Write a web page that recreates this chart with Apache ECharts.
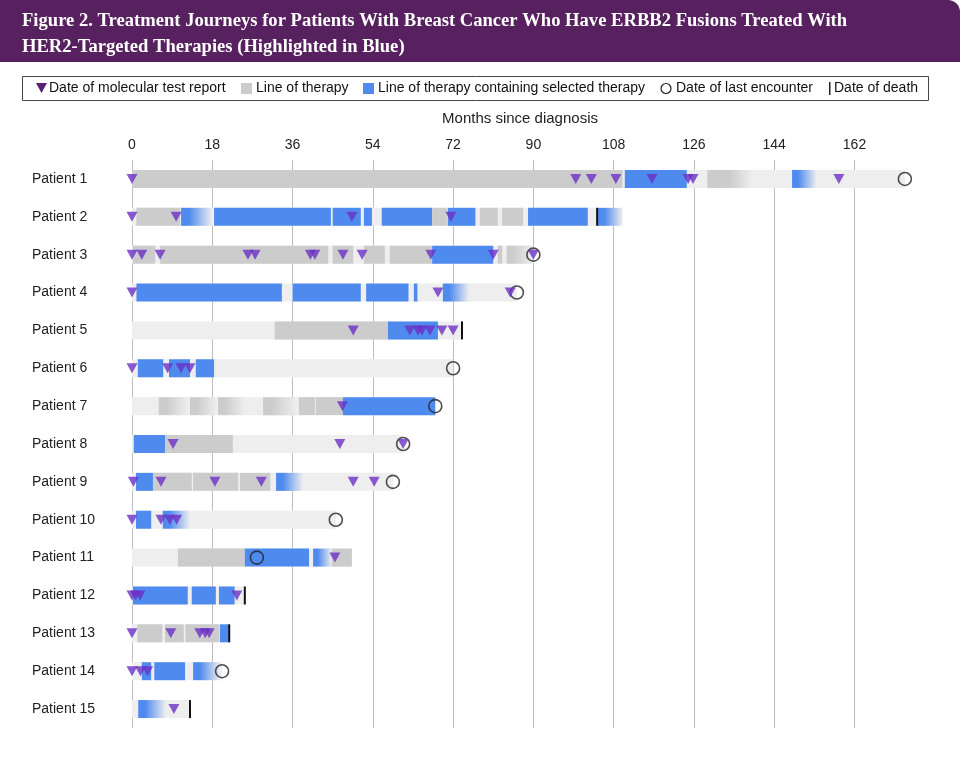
<!DOCTYPE html>
<html>
<head>
<meta charset="utf-8">
<script src="https://cdn.jsdelivr.net/npm/echarts@6/dist/echarts.min.js"></script>
<style>
  html, body { margin: 0; padding: 0; background: #fff; }
  #chart { width: 962px; height: 770px; }
</style>
</head>
<body>
<div id="chart"></div>
<script>
// 患者
var patients = ["Patient 1", "Patient 2", "Patient 3", "Patient 4", "Patient 5", "Patient 6", "Patient 7", "Patient 8",
  "Patient 9", "Patient 10", "Patient 11", "Patient 12", "Patient 13", "Patient 14", "Patient 15"];
var xTicks = [0, 18, 36, 54, 72, 90, 108, 126, 144, 162];

// 随访期 (浅灰底) [patient, start, end]
var followUp = [[0, 0, 173.3], [1, 0, 104.3], [2, 0, 90], [3, 0, 86.3], [4, 0, 74], [5, 0, 72], [6, 0, 68], [7, 0, 60.8],
  [8, 0, 58.5], [9, 0, 45.7], [10, 0, 49.3], [11, 0, 25.3], [12, 0, 21.8], [13, 0, 20.2], [14, 0, 13]];

// 治疗线 [patient, start, end, kind]  G=灰 B=蓝 BF=蓝渐隐 GF=灰渐隐
var lines = [
  [0, 0, 110, "G"], [0, 110.5, 124.4, "B"], [0, 129, 132.5, "G"], [0, 132.5, 139, "GF"], [0, 148, 153.5, "BF"],
  [1, 1, 10.8, "G"], [1, 11, 18, "BF"], [1, 18.4, 44.6, "B"], [1, 45, 51.3, "B"], [1, 52, 53.8, "B"], [1, 56, 67.3, "B"],
  [1, 67.3, 70.6, "G"], [1, 70.8, 77, "B"], [1, 78, 82, "G"], [1, 83, 87.7, "G"], [1, 88.8, 102.2, "B"], [1, 104.5, 110, "BF"],
  [2, 0.2, 5.2, "G"], [2, 6.3, 44, "G"], [2, 45, 49.6, "G"], [2, 52, 56.7, "G"], [2, 57.8, 67.3, "G"], [2, 67.3, 81, "B"],
  [2, 82, 83, "G"], [2, 84, 90, "GF"],
  [3, 1, 33.6, "B"], [3, 36, 51.3, "B"], [3, 52.5, 62, "B"], [3, 63.2, 64, "B"], [3, 69.7, 75.6, "BF"],
  [4, 32, 57.4, "G"], [4, 57.4, 68.6, "B"],
  [5, 1.3, 7, "B"], [5, 8.3, 13, "B"], [5, 14.3, 18.4, "B"],
  [6, 6, 12.6, "GF"], [6, 13, 19, "GF"], [6, 19.3, 25.3, "GF"], [6, 29.4, 37, "GF"], [6, 37.4, 41, "G"], [6, 41.2, 47.3, "G"],
  [6, 47.3, 68, "B"],
  [7, 0.4, 7.4, "B"], [7, 7.4, 22.6, "G"],
  [8, 0.9, 4.7, "B"], [8, 4.7, 13.4, "G"], [8, 13.7, 23.8, "G"], [8, 24.2, 31, "G"], [8, 32.3, 38.3, "BF"],
  [9, 0.9, 4.3, "B"], [9, 6.9, 13, "BF"],
  [10, 10.3, 25.3, "G"], [10, 25.3, 39.7, "B"], [10, 40.6, 44.8, "BF"], [10, 44.8, 49.3, "G"],
  [11, 0.2, 12.5, "B"], [11, 13.4, 18.8, "B"], [11, 19.5, 23, "B"],
  [12, 1.2, 6.8, "G"], [12, 7.4, 11.6, "G"], [12, 12, 19.5, "G"], [12, 19.7, 21.8, "B"],
  [13, 2.2, 4.3, "B"], [13, 5, 11.9, "B"], [13, 13.7, 19.7, "BF"],
  [14, 1.4, 7.6, "BF"]
];

// 分子检测报告日期 [patient, month]
var tests = [
  [0, 0], [0, 99.5], [0, 103], [0, 108.5], [0, 116.6], [0, 124.7], [0, 125.8], [0, 158.5],
  [1, 0], [1, 9.9], [1, 49.3], [1, 71.5],
  [2, 0], [2, 2.2], [2, 6.3], [2, 26], [2, 27.6], [2, 40], [2, 41], [2, 47.3], [2, 51.6], [2, 67], [2, 81], [2, 90],
  [3, 0], [3, 68.6], [3, 84.8],
  [4, 49.6], [4, 62.3], [4, 64.1], [4, 65], [4, 66.8], [4, 69.5], [4, 72],
  [5, 0], [5, 8], [5, 11], [5, 13],
  [6, 47.2],
  [7, 9.2], [7, 46.6], [7, 60.8],
  [8, 0.3], [8, 6.5], [8, 18.6], [8, 29], [8, 49.6], [8, 54.3],
  [9, 0], [9, 6.5], [9, 8.5], [9, 10],
  [10, 45.5],
  [11, 0], [11, 0.8], [11, 1.8], [11, 23.5],
  [12, 0], [12, 8.7], [12, 15.2], [12, 16.4], [12, 17.3],
  [13, 0], [13, 1.9], [13, 3.5],
  [14, 9.4]
];

// 最后随访日期 [patient, month]
var lastEncounter = [[0, 173.3], [2, 90], [3, 86.3], [5, 72], [6, 68], [7, 60.8], [8, 58.5], [9, 45.7], [10, 28], [13, 20.2]];
// 死亡日期 [patient, month]
var death = [[1, 104.3], [4, 74], [11, 25.3], [12, 21.8], [14, 13]];

var colLight = "#eeeeee", colGray = "#cccccc", colBlue = "#4f8bef", colTri = "#6a2fc4";

function fillFor(kind) {
  if (kind === "G") return colGray;
  if (kind === "B") return colBlue;
  if (kind === "L") return colLight;
  var from = kind === "BF" ? colBlue : colGray;
  return new echarts.graphic.LinearGradient(0, 0, 1, 0, [
    { offset: 0, color: from }, { offset: 0.25, color: from }, { offset: 1, color: colLight }
  ]);
}

function barRender(params, api) {
  var p = api.value(0);
  var a = api.coord([api.value(1), p]);
  var b = api.coord([api.value(2), p]);
  var h = 18;
  return {
    type: "rect",
    shape: { x: a[0], y: a[1] - h / 2, width: Math.max(b[0] - a[0], 1), height: h },
    style: { fill: fillFor(api.value(3)) }
  };
}

function deathRender(params, api) {
  var c = api.coord([api.value(1), api.value(0)]);
  return { type: "rect", shape: { x: c[0] - 1, y: c[1] - 9, width: 2, height: 18 }, style: { fill: "#111" } };
}

var myChart = echarts.init(document.getElementById("chart"));
var font = "Liberation Sans, Arial, sans-serif";

var legendY = 88;
var ty = legendY - 7;
var option = {
  animation: false,
  textStyle: { fontFamily: font },
  graphic: [
    { type: "rect", shape: { x: 0, y: 0, width: 960, height: 62, r: [0, 12, 0, 0] }, style: { fill: "#57205f" } },
    { type: "text", left: 22, top: 8,
      style: { text: "Figure 2. Treatment Journeys for Patients With Breast Cancer Who Have ERBB2 Fusions Treated With\nHER2-Targeted Therapies (Highlighted in Blue)",
        fill: "#fff", font: "bold 18.6px Liberation Serif, serif", lineHeight: 26 } },
    { type: "rect", shape: { x: 22.5, y: 76.5, width: 906, height: 24 }, style: { fill: "#fff", stroke: "#444", lineWidth: 1 } },
    { type: "polygon", shape: { points: [[36, legendY - 5], [47, legendY - 5], [41.5, legendY + 5]] }, style: { fill: "#5a1f77" } },
    { type: "text", left: 49, top: ty, style: { text: "Date of molecular test report", font: "14px " + font, fill: "#111" } },
    { type: "rect", shape: { x: 241, y: legendY - 5, width: 11, height: 11 }, style: { fill: colGray } },
    { type: "text", left: 256, top: ty, style: { text: "Line of therapy", font: "14px " + font, fill: "#111" } },
    { type: "rect", shape: { x: 363, y: legendY - 5, width: 11, height: 11 }, style: { fill: colBlue } },
    { type: "text", left: 378, top: ty, style: { text: "Line of therapy containing selected therapy", font: "14px " + font, fill: "#111" } },
    { type: "circle", shape: { cx: 666, cy: legendY + 0.5, r: 5 }, style: { fill: "#fff", stroke: "#222", lineWidth: 1.2 } },
    { type: "text", left: 676, top: ty, style: { text: "Date of last encounter", font: "14px " + font, fill: "#111" } },
    { type: "rect", shape: { x: 829, y: legendY - 6, width: 1.5, height: 13 }, style: { fill: "#222" } },
    { type: "text", left: 834, top: ty, style: { text: "Date of death", font: "14px " + font, fill: "#111" } }
  ],
  grid: { left: 132, top: 160, width: 776, height: 568 },
  xAxis: {
    type: "value", position: "top", min: 0, max: 174, interval: 18,
    name: "Months since diagnosis", nameLocation: "middle", nameGap: 34,
    nameTextStyle: { fontSize: 15, color: "#222" },
    axisLine: { show: false }, axisTick: { show: false },
    axisLabel: { fontSize: 14, color: "#222", margin: 8,
      formatter: function(v) { return xTicks.indexOf(v) >= 0 ? v : ""; } },
    splitLine: { show: false }
  },
  yAxis: {
    type: "category", data: patients, inverse: true,
    axisLine: { show: false }, axisTick: { show: false }, splitLine: { show: false },
    axisLabel: { align: "left", margin: 100, fontSize: 14, color: "#222" }
  },
  series: [
    { type: "custom", renderItem: barRender, encode: { x: [1, 2], y: 0 },
      data: followUp.map(function(d) { return [d[0], d[1], d[2], "L"]; }),
      markLine: { silent: true, symbol: "none", label: { show: false }, z: 0,
        lineStyle: { color: "#bdbdbd", width: 1, type: "solid" },
        data: xTicks.map(function(t) { return { xAxis: t }; }) } },
    { type: "custom", renderItem: barRender, encode: { x: [1, 2], y: 0 }, data: lines },
    { type: "custom", renderItem: deathRender, encode: { x: 1, y: 0 }, data: death },
    { type: "scatter", symbol: "circle", symbolSize: 13, z: 3,
      itemStyle: { color: "rgba(255,255,255,0)", borderColor: "#222", borderWidth: 1.6 },
      data: lastEncounter.map(function(d) { return [d[1], d[0]]; }) },
    { type: "scatter", symbol: "triangle", symbolRotate: 180, symbolSize: [11, 10], z: 4,
      itemStyle: { color: colTri },
      data: tests.map(function(d) { return [d[1], d[0]]; }) }
  ]
};

myChart.setOption(option);
window.addEventListener("resize", function() {
  myChart.resize();
});
</script>
</body>
</html>
